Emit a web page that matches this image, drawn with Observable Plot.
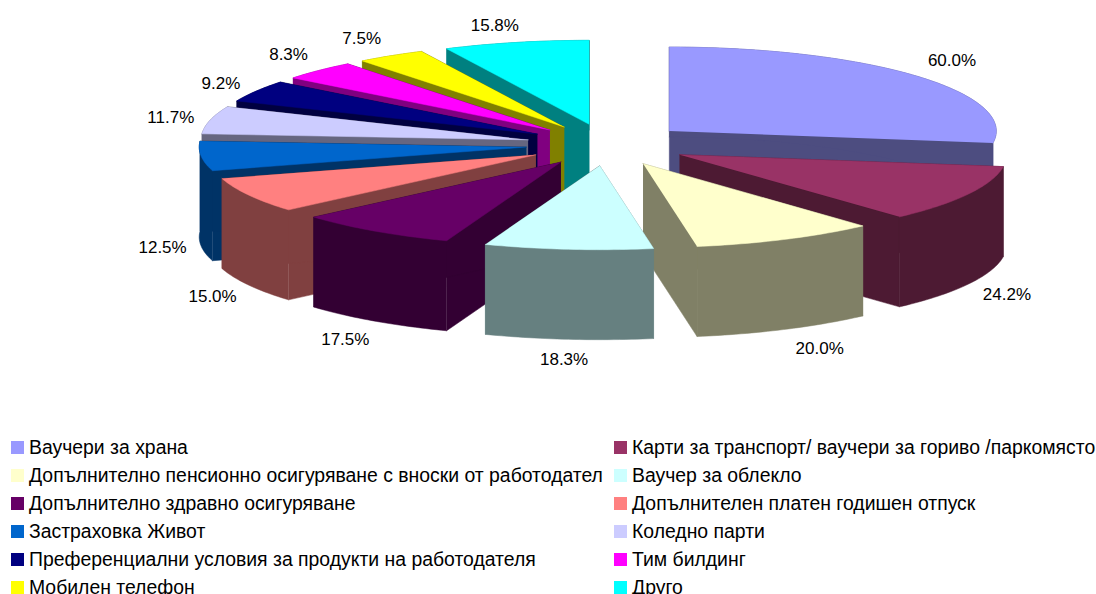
<!DOCTYPE html>
<html lang="bg">
<head>
<meta charset="utf-8">
<script src="https://cdn.jsdelivr.net/npm/d3@7"></script>
<script src="https://cdn.jsdelivr.net/npm/@observablehq/plot@0.6"></script>
<style>
html,body{margin:0;padding:0;background:#fff;width:1096px;height:594px;overflow:hidden}
svg{display:block}
#legend{display:grid;grid-template-columns:603px 482px;grid-auto-rows:28px;padding-left:11px;
  font:19.4px "Liberation Sans",Arial,sans-serif;color:#000;white-space:nowrap}
#legend div{display:flex;align-items:center;height:28px;overflow:visible}
#legend i{display:inline-block;width:13px;height:13px;margin-right:5px;flex:none}
#legend span{display:block;line-height:13px}
</style>
</head>
<body>
<div id="chart"></div>
<div id="legend"></div>
<script>
const categories = [
  "Ваучери за храна",
  "Карти за транспорт/ ваучери за гориво /паркомясто",
  "Допълнително пенсионно осигуряване с вноски от работодател",
  "Ваучер за облекло",
  "Допълнително здравно осигуряване",
  "Допълнителен платен годишен отпуск",
  "Застраховка Живот",
  "Коледно парти",
  "Преференциални условия за продукти на работодателя",
  "Тим билдинг",
  "Мобилен телефон",
  "Друго"
];
const values = [60.0, 24.2, 20.0, 18.3, 17.5, 15.0, 12.5, 11.7, 9.2, 8.3, 7.5, 15.8];
const colors = ["#9999FF","#993366","#FFFFCC","#CCFFFF","#660066","#FF8080","#0066CC","#CCCCFF","#000080","#FF00FF","#FFFF00","#00FFFF"];
const paintOrder = [11,10,9,8,7,6,5,4,0,1,2,3];

// Geometry of the tilted pie, in units of its radius
const W = 1096, H = 433;
const cx = 607, cy = 144.3, rx = 327, ry = 84;
const explode = 0.25, depth = 90 / ry;
// Small label nudges, in pixels, per slice
const labelNudgeX = [1, -2, 14, 0, -3, 4, 7, 5, 4, 2, -5, -11];
const labelNudgeY = [-4, 3, 4, 4, 5, 3, 0, 2, 1, -4, -3, -1];

const total = d3.sum(values);
const ends = d3.cumsum(values);
const slices = values.map((v, i) => {
  const a1 = (ends[i] - v) / total * 2 * Math.PI;
  const a2 = ends[i] / total * 2 * Math.PI;
  const mid = (a1 + a2) / 2;
  return {i, v, a1, a2, mid,
    ax: explode * Math.sin(mid), ay: -explode * Math.cos(mid)};
});
const half = c => { const k = d3.rgb(c); return d3.rgb(k.r / 2, k.g / 2, k.b / 2).formatHex(); };

const pts = [];
function poly(id, color, list) {
  for (const [x, y] of list) pts.push({id, color, x, y});
}
for (const k of paintOrder) {
  const s = slices[k];
  const n = Math.max(2, Math.ceil((s.a2 - s.a1) / (Math.PI / 180)));
  const arc = d3.range(n + 1).map(j => {
    const a = s.a1 + (s.a2 - s.a1) * j / n;
    return [s.ax + Math.sin(a), s.ay - Math.cos(a)];
  });
  const apex = [s.ax, s.ay];
  const down = ([x, y]) => [x, y + depth];
  const wall = half(colors[k]);
  poly(k + "-a", wall, [apex, arc[0], down(arc[0]), down(apex)]);
  poly(k + "-b", wall, [apex, arc[n], down(arc[n]), down(apex)]);
  poly(k + "-c", wall, [...arc, ...arc.slice().reverse().map(down)]);
  poly(k + "-t", colors[k], [apex, ...arc]);
}
const labels = slices.map(s => {
  const c = Math.cos(s.mid);
  return {
    x: s.ax + 1.14 * Math.sin(s.mid) + labelNudgeX[s.i] / rx,
    y: s.ay - 1.2 * c + (c < 0 ? depth : 0) + labelNudgeY[s.i] / ry,
    text: d3.format(".1f")(s.v) + "%"
  };
});

const plot = Plot.plot({
  width: W, height: H, margin: 0,
  x: {domain: [-cx / rx, (W - cx) / rx], range: [0, W], axis: null},
  y: {domain: [-cy / ry, (H - cy) / ry], range: [0, H], axis: null},
  color: {type: "identity"},
  style: {background: "#fff"},
  marks: [
    Plot.line(pts, {x: "x", y: "y", z: "id", fill: "color", stroke: "color", strokeWidth: 0.5, curve: "linear"}),
    Plot.text(labels, {x: "x", y: "y", text: "text", fontSize: 17, fontFamily: "Liberation Sans, Arial, sans-serif", fill: "#000", textAnchor: "middle", lineAnchor: "middle"})
  ]
});
document.getElementById("chart").append(plot);

const legend = d3.select("#legend");
categories.forEach((name, i) => {
  const row = legend.append("div");
  row.append("i").style("background", colors[i]);
  row.append("span").text(name);
});
</script>
</body>
</html>
